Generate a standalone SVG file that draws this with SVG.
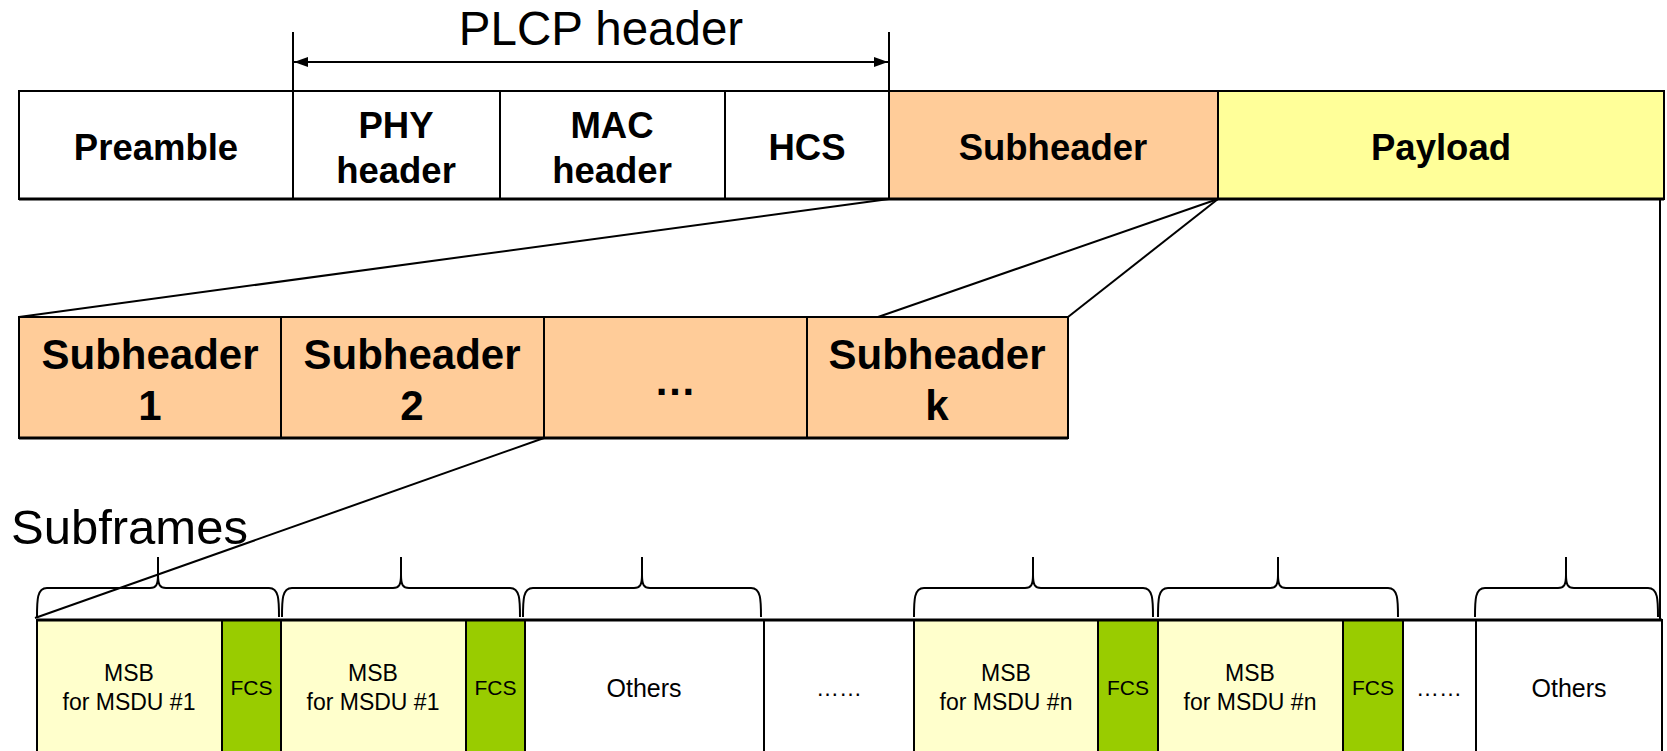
<svg xmlns="http://www.w3.org/2000/svg" width="1667" height="751" viewBox="0 0 1667 751">
<defs>
<style>
.b{stroke:#000;stroke-width:2}
.w{fill:#fff}
.sh{fill:#FFCC99}
.pl{fill:#FFFF99}
.ms{fill:#FFFFCC}
.fc{fill:#99CC00}
text{font-family:"Liberation Sans",Arial,sans-serif;text-anchor:middle;fill:#000}
.t1{font-size:36.5px;font-weight:bold}
.t2{font-size:42px;font-weight:bold}
.t3{font-size:23px}
.t4{font-size:21px}
.t5{font-size:25px}
.big{font-size:47.5px}
.ln{stroke:#000;stroke-width:2;fill:none}
.thk{stroke:#000;stroke-width:3;fill:none}
</style>
<marker id="ah" viewBox="0 0 14 10" refX="14" refY="5" markerWidth="14" markerHeight="10" markerUnits="userSpaceOnUse" orient="auto-start-reverse">
<path d="M0,0 L14,5 L0,10 z" fill="#000"/>
</marker>
</defs>
<rect width="1667" height="751" fill="#fff"/>

<text class="big" x="601" y="45">PLCP header</text>
<text class="big" x="11" y="544" style="text-anchor:start;font-size:49px">Subframes</text>

<g id="top-row">
<g id="preamble"><rect class="b w" x="19" y="91" width="274" height="108"/><text class="t1" x="156" y="160">Preamble</text></g>
<g id="phy"><rect class="b w" x="293" y="91" width="207" height="108"/><text class="t1" x="396" y="138">PHY</text><text class="t1" x="396" y="183">header</text></g>
<g id="mac"><rect class="b w" x="500" y="91" width="225" height="108"/><text class="t1" x="612" y="138">MAC</text><text class="t1" x="612" y="183">header</text></g>
<g id="hcs"><rect class="b w" x="725" y="91" width="164" height="108"/><text class="t1" x="807" y="160">HCS</text></g>
<g id="subheader"><rect class="b sh" x="889" y="91" width="329" height="108"/><text class="t1" x="1053" y="160">Subheader</text></g>
<g id="payload"><rect class="b pl" x="1218" y="91" width="446" height="108"/><text class="t1" x="1441" y="160">Payload</text></g>
<line class="thk" x1="19" y1="199" x2="1664" y2="199"/>
</g>

<g id="mid-row">
<g id="sh1"><rect class="b sh" x="19" y="317" width="262" height="121"/><text class="t2" x="150" y="369">Subheader</text><text class="t2" x="150" y="420">1</text></g>
<g id="sh2"><rect class="b sh" x="281" y="317" width="263" height="121"/><text class="t2" x="412" y="369">Subheader</text><text class="t2" x="412" y="420">2</text></g>
<g id="shdots"><rect class="b sh" x="544" y="317" width="263" height="121"/><text class="t2" x="675" y="395">…</text></g>
<g id="shk"><rect class="b sh" x="807" y="317" width="261" height="121"/><text class="t2" x="937" y="369">Subheader</text><text class="t2" x="937" y="420">k</text></g>
<line class="thk" x1="19" y1="438" x2="1068" y2="438"/>
</g>

<g id="bottom-row">
<g id="msb1"><rect class="b ms" x="37" y="620" width="185" height="140"/><text class="t3" x="129" y="681">MSB</text><text class="t3" x="129" y="710">for MSDU #1</text></g>
<g id="fcs1"><rect class="b fc" x="222" y="620" width="59" height="140"/><text class="t4" x="251.5" y="695">FCS</text></g>
<g id="msb2"><rect class="b ms" x="281" y="620" width="185" height="140"/><text class="t3" x="373" y="681">MSB</text><text class="t3" x="373" y="710">for MSDU #1</text></g>
<g id="fcs2"><rect class="b fc" x="466" y="620" width="59" height="140"/><text class="t4" x="495.5" y="695">FCS</text></g>
<g id="others1"><rect class="b w" x="525" y="620" width="239" height="140"/><text class="t5" x="644" y="697">Others</text></g>
<g id="dots1"><rect class="b w" x="764" y="620" width="150" height="140"/><text class="t3" x="839" y="696">……</text></g>
<g id="msb3"><rect class="b ms" x="914" y="620" width="184" height="140"/><text class="t3" x="1006" y="681">MSB</text><text class="t3" x="1006" y="710">for MSDU #n</text></g>
<g id="fcs3"><rect class="b fc" x="1098" y="620" width="60" height="140"/><text class="t4" x="1128" y="695">FCS</text></g>
<g id="msb4"><rect class="b ms" x="1158" y="620" width="185" height="140"/><text class="t3" x="1250" y="681">MSB</text><text class="t3" x="1250" y="710">for MSDU #n</text></g>
<g id="fcs4"><rect class="b fc" x="1343" y="620" width="60" height="140"/><text class="t4" x="1373" y="695">FCS</text></g>
<g id="dots2"><rect class="b w" x="1403" y="620" width="73" height="140"/><text class="t3" x="1439" y="696">……</text></g>
<g id="others2"><rect class="b w" x="1476" y="620" width="186" height="140"/><text class="t5" x="1569" y="697">Others</text></g>
<line class="thk" x1="37" y1="620" x2="1662" y2="620"/>
</g>

<g id="connectors">
<line class="ln" x1="293" y1="32" x2="293" y2="106"/>
<line class="ln" x1="889" y1="32" x2="889" y2="91"/>
<line class="ln" x1="294" y1="62" x2="888" y2="62" marker-start="url(#ah)" marker-end="url(#ah)"/>
<line class="ln" x1="889" y1="199" x2="19" y2="317"/>
<line class="ln" x1="1218" y1="199" x2="878" y2="317"/>
<line class="ln" x1="1218" y1="199" x2="1068" y2="317"/>
<line class="ln" x1="1660" y1="199" x2="1660" y2="620"/>
<line class="ln" x1="544" y1="438" x2="35" y2="618"/>
<path class="ln" d="M37 617 C37 600 37 588 47 588 L150 588 C156 588 158 585 158 575 L158 557 M158 575 C158 585 160 588 166 588 L269 588 C279 588 279 600 279 617"/>
<path class="ln" d="M282 617 C282 600 282 588 292 588 L393 588 C399 588 401 585 401 575 L401 557 M401 575 C401 585 403 588 409 588 L510 588 C520 588 520 600 520 617"/>
<path class="ln" d="M523 617 C523 600 523 588 533 588 L634 588 C640 588 642 585 642 575 L642 557 M642 575 C642 585 644 588 650 588 L751 588 C761 588 761 600 761 617"/>
<path class="ln" d="M914 617 C914 600 914 588 924 588 L1025 588 C1031 588 1033 585 1033 575 L1033 557 M1033 575 C1033 585 1035 588 1041 588 L1143 588 C1153 588 1153 600 1153 617"/>
<path class="ln" d="M1158 617 C1158 600 1158 588 1168 588 L1270 588 C1276 588 1278 585 1278 575 L1278 557 M1278 575 C1278 585 1280 588 1286 588 L1388 588 C1398 588 1398 600 1398 617"/>
<path class="ln" d="M1475 617 C1475 600 1475 588 1485 588 L1558 588 C1564 588 1566 585 1566 575 L1566 557 M1566 575 C1566 585 1568 588 1574 588 L1648 588 C1658 588 1658 600 1658 617"/>
</g>
</svg>
